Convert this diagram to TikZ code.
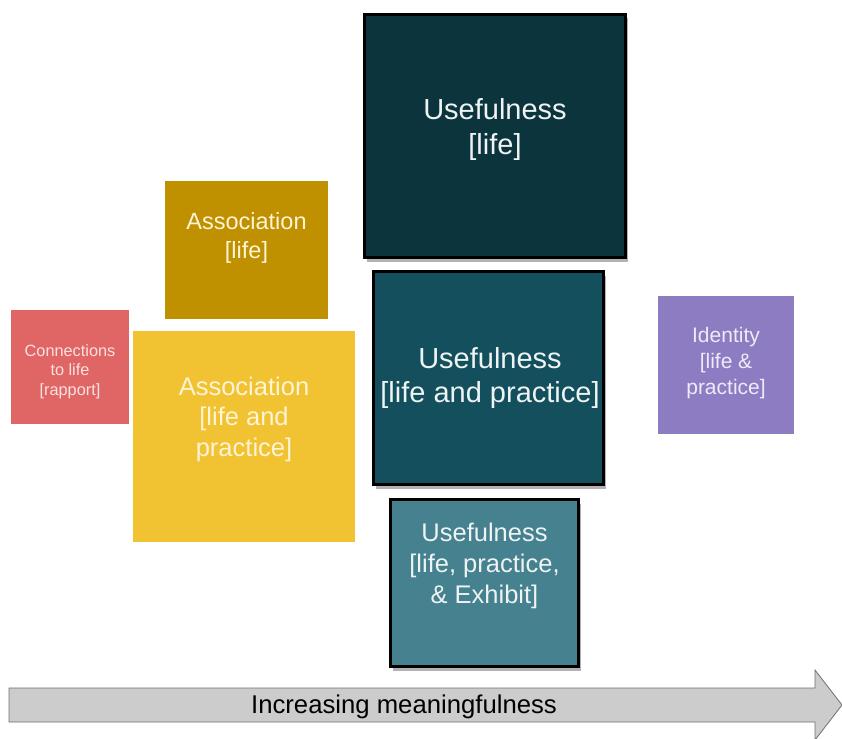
\documentclass[tikz,border=0pt]{standalone}
\usepackage{fontspec}
\setmainfont{Liberation Sans}
\usetikzlibrary{shadows}
\definecolor{cred}{HTML}{E06666}
\definecolor{cgold}{HTML}{BF9000}
\definecolor{cyel}{HTML}{F1C232}
\definecolor{cdarka}{HTML}{0C343D}
\definecolor{cdarkb}{HTML}{134F5C}
\definecolor{cteal}{HTML}{45818E}
\definecolor{cpurp}{HTML}{8E7CC3}
\definecolor{carrow}{HTML}{CCCCCC}
\definecolor{carrowline}{HTML}{707070}
\definecolor{tred}{HTML}{FBE0E0}
\definecolor{tgold}{HTML}{FFF4D6}
\definecolor{tpurp}{HTML}{EEEAF8}
\definecolor{tlight}{HTML}{EEF3F4}
\tikzset{
  box/.style={rectangle, inner sep=0pt, draw=none},
  usebox/.style={rectangle, inner sep=0pt, draw=black, line width=3pt,
    drop shadow={shadow xshift=2pt, shadow yshift=-4pt, opacity=0.3, fill=black}},
  lbl/.style={align=center, inner sep=0pt},
}
\begin{document}
\begin{tikzpicture}[x=1pt,y=-1pt]
\useasboundingbox (0,0) rectangle (842,738);
% arrow
\draw[fill=carrow, draw=carrowline, line width=0.8pt, line join=miter]
  (9,688) -- (815,688) -- (815,670) -- (842,705) -- (815,740) -- (815,722) -- (9,722) -- cycle;
\node[lbl, font=\fontsize{25.7}{30}\selectfont] (arrowtext) at (404,707) {Increasing meaningfulness};
% boxes
\node[box, fill=cred, minimum width=118pt, minimum height=114pt] (conn) at (70,367) {};
\node[box, fill=cgold, minimum width=163pt, minimum height=138pt] (assoca) at (246.5,250) {};
\node[box, fill=cyel, minimum width=222pt, minimum height=211pt] (assocb) at (244,436.5) {};
\node[box, fill=cpurp, minimum width=136pt, minimum height=138pt] (ident) at (726,365) {};
\node[usebox, fill=cdarka, minimum width=261pt, minimum height=243pt] (usea) at (495,136) {};
\node[usebox, fill=cdarkb, minimum width=230pt, minimum height=213pt] (useb) at (488.5,378) {};
\node[usebox, fill=cteal, minimum width=188pt, minimum height=167pt] (usec) at (484.5,583) {};
% texts
\node[lbl, text=tred, font=\fontsize{16.3}{19.5}\selectfont] (conntext) at (70,371.5) {Connections\\to life\\{[rapport]}};
\node[lbl, text=tgold, font=\fontsize{23.5}{29}\selectfont] (assocatext) at (246.5,237.5) {Association\\{[life]}};
\node[lbl, text=tgold, font=\fontsize{25.5}{30.5}\selectfont] (assocbtext) at (244,419) {Association\\{[life and}\\practice]};
\node[lbl, text=tpurp, font=\fontsize{21}{26}\selectfont] (identtext) at (726,363) {Identity\\{[life \&}\\practice]};
\node[lbl, text=tlight, font=\fontsize{29}{35}\selectfont] (useatext) at (495,130) {Usefulness\\{[life]}};
\node[lbl, text=tlight, font=\fontsize{29}{34}\selectfont] (usebtext) at (490,377.5) {Usefulness\\{[life and practice]}};
\node[lbl, text=tlight, font=\fontsize{25.5}{31}\selectfont] (usectext) at (484.5,566) {Usefulness\\{[life, practice,}\\\& Exhibit]};
\end{tikzpicture}
\end{document}
